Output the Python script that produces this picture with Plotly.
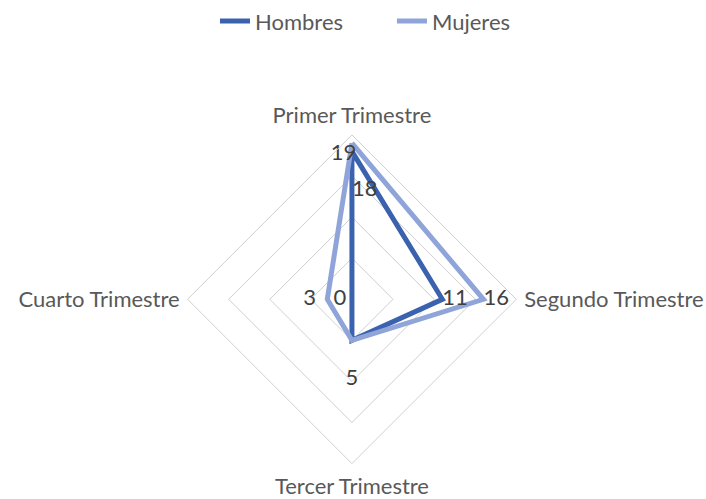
import plotly.graph_objects as go

categorias = ["Primer Trimestre", "Segundo Trimestre", "Tercer Trimestre", "Cuarto Trimestre"]
hombres = [18, 11, 5, 0]
mujeres = [19, 16, 5, 3]

color_h = "#3A62AE"
color_m = "#8FA4D8"
gris = "#595959"
gris_txt = "#404040"
FS = 22

fig = go.Figure()

def cerrar(v):
    return list(v) + [v[0]]

# lineas
fig.add_trace(go.Scatterpolar(
    r=cerrar(hombres), theta=cerrar(categorias), name="Hombres",
    mode="lines", line=dict(color=color_h, width=5),
))
fig.add_trace(go.Scatterpolar(
    r=cerrar(mujeres), theta=cerrar(categorias), name="Mujeres",
    mode="lines", line=dict(color=color_m, width=5),
))

# etiquetas de datos
eps = 1e-6
fig.add_trace(go.Scatterpolar(
    r=[max(v, eps) for v in hombres], theta=categorias, mode="text", showlegend=False,
    text=["<br>" + str(hombres[0]), str(hombres[1]), "<br>" + str(hombres[2]), str(hombres[3]) + " "],
    textposition=["bottom right", "middle right", "bottom center", "middle left"],
    textfont=dict(family="Lato", size=FS, color=gris_txt), cliponaxis=False, hoverinfo="skip",
))
fig.add_trace(go.Scatterpolar(
    r=[max(v, eps) for v in mujeres], theta=categorias, mode="text", showlegend=False,
    text=[str(mujeres[0]) + "   ", str(mujeres[1]), "", str(mujeres[3]) + "  "],
    textposition=["bottom center", "middle right", "bottom center", "middle left"],
    textfont=dict(family="Lato", size=FS, color=gris_txt), cliponaxis=False, hoverinfo="skip",
))

fig.update_layout(
    width=706, height=499,
    margin=dict(l=0, r=0, t=0, b=0),
    paper_bgcolor="white",
    font=dict(family="Lato", size=FS, color=gris),
    showlegend=True,
    legend=dict(orientation="h", x=0.3045, xanchor="left", y=1.016, yanchor="top",
                entrywidth=132, entrywidthmode="pixels",
                font=dict(size=FS, color=gris)),
    polar=dict(
        domain=dict(x=[0.262, 0.735], y=[0.072, 0.7415]),
        bgcolor="white",
        gridshape="linear",
        angularaxis=dict(
            categoryarray=categorias, categoryorder="array",
            rotation=90, direction="clockwise",
            showgrid=False, showline=True, linecolor="#D0D0D0", linewidth=1,
            ticks="outside", ticklen=3, tickcolor="rgba(0,0,0,0)",
            tickfont=dict(family="Lato", size=FS, color=gris),
        ),
        radialaxis=dict(
            range=[0, 20], dtick=5, showticklabels=False, ticks="",
            showline=False, gridcolor="#D0D0D0", gridwidth=1,
        ),
    ),
)

fig.write_html(
    "out.html",
    config={"displayModeBar": False},
    post_script="document.body.style.margin='0';document.documentElement.style.overflow='hidden';document.body.style.overflow='hidden';",
)
